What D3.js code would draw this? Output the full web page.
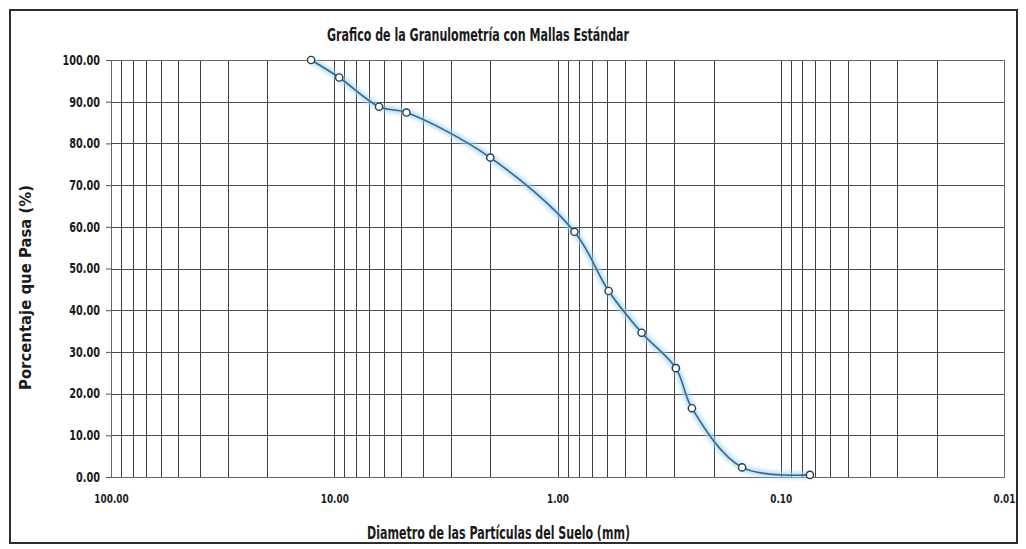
<!DOCTYPE html>
<html>
<head>
<meta charset="utf-8">
<script src="https://cdn.jsdelivr.net/npm/d3@7"></script>
<style>
  html, body { margin: 0; padding: 0; background: #ffffff; }
  svg { display: block; }
  text { font-family: "DejaVu Sans Condensed", "DejaVu Sans", sans-serif; font-weight: bold; fill: #1a1a1a; }
</style>
</head>
<body>
<svg id="chart" width="1026" height="549"></svg>
<script>
// Sieve openings (mm) and cumulative percent passing
const diameters = [12.7, 9.5, 6.3, 4.75, 2.00, 0.84, 0.59, 0.42, 0.295, 0.25, 0.149, 0.074];
const percentPassing = [100.0, 95.8, 88.8, 87.4, 76.6, 58.8, 44.6, 34.6, 26.1, 16.5, 2.3, 0.5];

// Axis ticks
const xTicks = [100, 10, 1, 0.1, 0.01];
const yTicks = [0, 10, 20, 30, 40, 50, 60, 70, 80, 90, 100];

const titleText = "Grafico de la Granulometría con Mallas Estándar";
const xTitleText = "Diametro de las Partículas del Suelo (mm)";
const yTitleText = "Porcentaje que Pasa (%)";

const svg = d3.select("#chart");

const plot = { left: 111, right: 1004, top: 60, bottom: 477 };

const x = d3.scaleLog().domain([100, 0.01]).range([plot.left, plot.right]);
const y = d3.scaleLinear().domain([0, 100]).range([plot.bottom, plot.top]);

// Outer frame
svg.append("rect")
  .attr("x", 10).attr("y", 10)
  .attr("width", 1007).attr("height", 533)
  .attr("fill", "#ffffff")
  .attr("stroke", "#2e2e2e")
  .attr("stroke-width", 2);

// Glow filter for the curve
const defs = svg.append("defs");
defs.append("filter").attr("id", "glow")
  .attr("x", "-5%").attr("y", "-5%").attr("width", "110%").attr("height", "110%")
  .append("feGaussianBlur").attr("stdDeviation", 2.2);

// Log grid: every integer multiple inside each decade
const minorValues = [];
for (let e = -2; e < 2; e++) {
  for (let m = 1; m < 10; m++) minorValues.push(m * Math.pow(10, e));
}
minorValues.push(100);

const grid = svg.append("g").attr("class", "grid");
grid.selectAll("line.v")
  .data(minorValues)
  .join("line")
  .attr("class", "v")
  .attr("x1", d => Math.round(x(d)) + 0.5)
  .attr("x2", d => Math.round(x(d)) + 0.5)
  .attr("y1", plot.top)
  .attr("y2", plot.bottom)
  .attr("stroke", "#3f3f3f")
  .attr("stroke-width", 1);

grid.selectAll("line.h")
  .data(yTicks)
  .join("line")
  .attr("class", "h")
  .attr("x1", plot.left)
  .attr("x2", plot.right)
  .attr("y1", d => Math.round(y(d)) + 0.5)
  .attr("y2", d => Math.round(y(d)) + 0.5)
  .attr("stroke", "#4d4d4d")
  .attr("stroke-width", 1);

// Plot border
svg.append("rect")
  .attr("x", plot.left + 0.5).attr("y", plot.top + 0.5)
  .attr("width", plot.right - plot.left).attr("height", plot.bottom - plot.top)
  .attr("fill", "none")
  .attr("stroke", "#666666")
  .attr("stroke-width", 1);

// Condense a text element to a share of its natural width
function condense(sel, factor) {
  sel.each(function () {
    const w = this.getComputedTextLength();
    d3.select(this).attr("textLength", w * factor).attr("lengthAdjust", "spacingAndGlyphs");
  });
}

// Y axis
const yAxis = svg.append("g")
  .attr("transform", `translate(${plot.left},0)`)
  .call(d3.axisLeft(y).tickValues(yTicks).tickFormat(d3.format(".2f")).tickSize(5).tickPadding(6));
yAxis.select(".domain").remove();
yAxis.selectAll(".tick line").attr("stroke", "#555");
yAxis.selectAll(".tick text")
  .attr("font-size", 13.5)
  .attr("fill", "#1a1a1a")
  .attr("font-family", "'DejaVu Sans Condensed', 'DejaVu Sans', sans-serif")
  .attr("font-weight", "bold")
  .call(condense, 0.8);

// X axis
const xAxis = svg.append("g")
  .attr("transform", `translate(0,${plot.bottom})`)
  .call(d3.axisBottom(x).tickValues(xTicks).tickFormat(d3.format(".2f")).tickSize(0).tickPadding(17));
xAxis.select(".domain").remove();
xAxis.selectAll(".tick text")
  .attr("font-size", 13)
  .attr("fill", "#1a1a1a")
  .attr("font-family", "'DejaVu Sans Condensed', 'DejaVu Sans', sans-serif")
  .attr("font-weight", "bold")
  .call(condense, 0.76);

// Data
const points = diameters.map((d, i) => ({ d, p: percentPassing[i] }));

const line = d3.line()
  .x(v => x(v.d))
  .y(v => y(v.p))
  .curve(d3.curveCatmullRom.alpha(0.5));

svg.append("path")
  .datum(points)
  .attr("d", line)
  .attr("fill", "none")
  .attr("stroke", "#9fd3f2")
  .attr("stroke-width", 6)
  .attr("opacity", 0.8)
  .attr("filter", "url(#glow)");

svg.append("path")
  .datum(points)
  .attr("d", line)
  .attr("fill", "none")
  .attr("stroke", "#3a6684")
  .attr("stroke-width", 1.6);

svg.selectAll("circle.pt")
  .data(points)
  .join("circle")
  .attr("class", "pt")
  .attr("cx", v => x(v.d))
  .attr("cy", v => y(v.p))
  .attr("r", 3.6)
  .attr("fill", "#ffffff")
  .attr("stroke", "#2b3f4f")
  .attr("stroke-width", 1.4);

// Titles
svg.append("text")
  .attr("x", 327).attr("y", 41)
  .attr("font-size", 17)
  .attr("textLength", 302).attr("lengthAdjust", "spacingAndGlyphs")
  .text(titleText);

svg.append("text")
  .attr("x", 367).attr("y", 539)
  .attr("font-size", 18)
  .attr("textLength", 263).attr("lengthAdjust", "spacingAndGlyphs")
  .text(xTitleText);

svg.append("text")
  .attr("transform", "translate(31,390) rotate(-90)")
  .attr("x", 0).attr("y", 0)
  .attr("font-size", 15)
  .attr("textLength", 205).attr("lengthAdjust", "spacingAndGlyphs")
  .text(yTitleText);
</script>
</body>
</html>
